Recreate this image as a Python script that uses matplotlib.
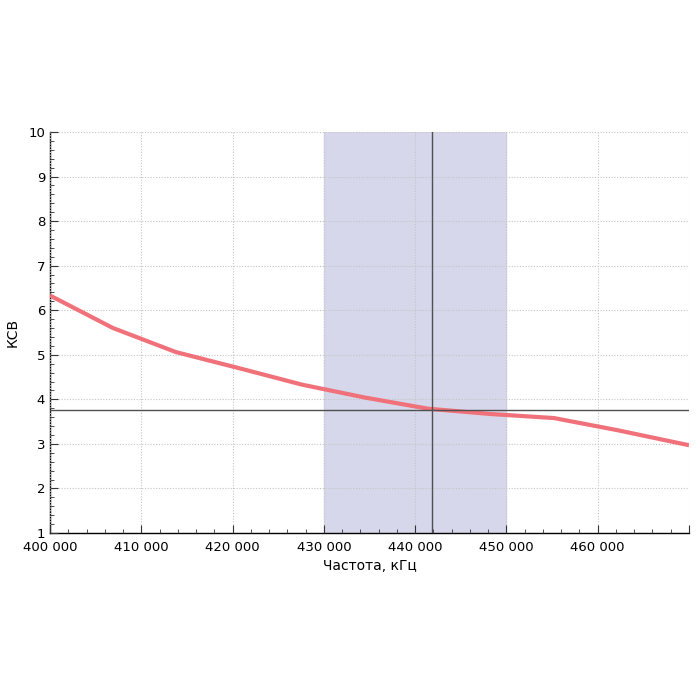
import matplotlib.pyplot as plt
from matplotlib.ticker import MultipleLocator, FuncFormatter

freq = [400000, 406900, 413800, 420700, 427600, 434500, 441400, 448300, 455200, 462100, 470000]
swr = [6.33, 5.60, 5.06, 4.70, 4.33, 4.04, 3.79, 3.67, 3.58, 3.31, 2.97]

band_lo = 430000
band_hi = 450000
marker_f = 441800
marker_swr = 3.77

fig = plt.figure(figsize=(7, 7), dpi=100)
ax = fig.add_axes([50 / 700, 1 - 533 / 700, 639 / 700, 401 / 700])

ax.axvspan(band_lo, band_hi, color='#d6d7ea', zorder=1)
ax.plot(freq, swr, color='#f0717a', linewidth=3, zorder=3, solid_capstyle='butt')
ax.axvline(marker_f, color='#505050', linewidth=1, zorder=4)
ax.axhline(marker_swr, color='#505050', linewidth=1, zorder=4)

ax.set_xlim(400000, 470000)
ax.set_ylim(1, 10)
ax.xaxis.set_major_locator(MultipleLocator(10000))
ax.xaxis.set_minor_locator(MultipleLocator(2000))
ax.yaxis.set_major_locator(MultipleLocator(1))
ax.yaxis.set_minor_locator(MultipleLocator(0.2))
ax.xaxis.set_major_formatter(FuncFormatter(lambda v, p: f"{int(v):,}".replace(",", " ") if v < 470000 else ""))

ax.grid(True, which='major', color='#c4c4c4', linestyle=(0, (1, 1.5)), linewidth=0.8, zorder=2)
ax.set_axisbelow(False)
for s in ['top', 'right']:
    ax.spines[s].set_visible(False)
for s in ['left', 'bottom']:
    ax.spines[s].set_color('black')
    ax.spines[s].set_linewidth(1)
ax.tick_params(which='major', direction='in', length=6, labelsize=9.5, color='#333333')
ax.tick_params(axis='x', which='major', pad=6)
ax.tick_params(which='minor', direction='in', length=3, color='#333333')
ax.set_xlabel('Частота, кГц', fontsize=10, labelpad=3)
ax.set_ylabel('КСВ', fontsize=10, labelpad=6)
ylabels = ax.get_yticklabels()
for t in ylabels:
    t.set_zorder(10)
ax.get_yticklabels()[0].set_verticalalignment('bottom')

plt.savefig('out.png', dpi=100)
